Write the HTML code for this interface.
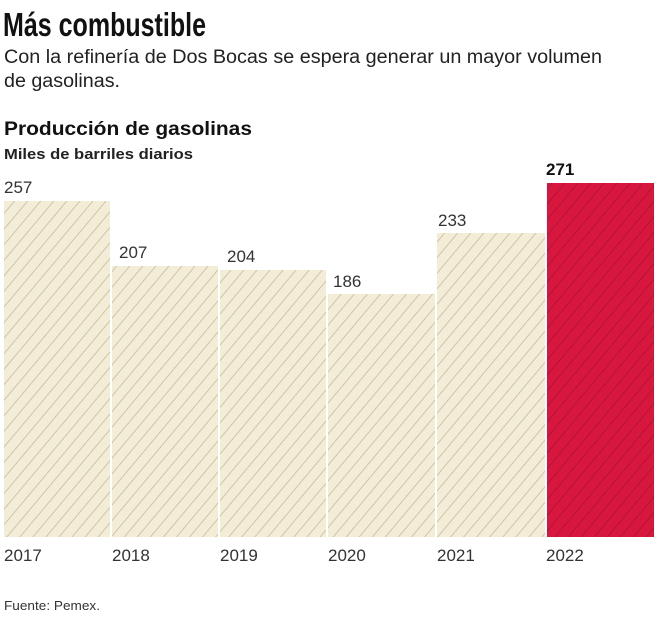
<!DOCTYPE html>
<html><head><meta charset="utf-8"><style>
body{margin:0;width:657px;height:620px;background:#fff;overflow:hidden;font-family:"Liberation Sans",sans-serif;}
</style></head><body>
<svg width="657" height="620" xmlns="http://www.w3.org/2000/svg">
<defs>
<pattern id="h1" patternUnits="userSpaceOnUse" width="10" height="10" patternTransform="rotate(40)">
<rect width="10" height="10" fill="#f3ecd6"/><line x1="0" y1="0" x2="0" y2="10" stroke="#bfb597" stroke-width="1.4"/></pattern>
<pattern id="h2" patternUnits="userSpaceOnUse" width="10" height="10" patternTransform="rotate(40)">
<rect width="10" height="10" fill="#d8173f"/><line x1="0" y1="0" x2="0" y2="10" stroke="#a8102f" stroke-width="1.4"/></pattern>
</defs>
<text x="3" y="36" font-size="33" font-family="Liberation Sans Narrow, Liberation Sans, sans-serif" font-weight="bold" fill="#111" textLength="203" lengthAdjust="spacingAndGlyphs">Más combustible</text>
<text x="4" y="63" font-size="19" fill="#222" textLength="598" lengthAdjust="spacingAndGlyphs">Con la refinería de Dos Bocas se espera generar un mayor volumen</text>
<text x="4" y="87" font-size="19" fill="#222" textLength="116" lengthAdjust="spacingAndGlyphs">de gasolinas.</text>
<text x="4" y="135" font-size="19" font-weight="bold" fill="#111" textLength="248" lengthAdjust="spacingAndGlyphs">Producción de gasolinas</text>
<text x="4" y="159" font-size="15" font-weight="bold" fill="#222" textLength="189" lengthAdjust="spacingAndGlyphs">Miles de barriles diarios</text>
<rect x="4" y="201" width="106" height="336" fill="url(#h1)"/>
<rect x="112" y="266" width="106" height="271" fill="url(#h1)"/>
<rect x="220" y="270" width="106" height="267" fill="url(#h1)"/>
<rect x="328" y="294" width="107" height="243" fill="url(#h1)"/>
<rect x="437" y="233" width="108" height="304" fill="url(#h1)"/>
<rect x="547" y="183" width="107" height="354" fill="url(#h2)"/>
<g font-size="17" fill="#333">
<text x="4" y="193">257</text>
<text x="119" y="258">207</text>
<text x="227" y="262">204</text>
<text x="333" y="287">186</text>
<text x="438" y="226">233</text>
<text x="546" y="175" font-weight="bold" fill="#111">271</text>
<text x="4" y="561">2017</text>
<text x="112" y="561">2018</text>
<text x="220" y="561">2019</text>
<text x="328" y="561">2020</text>
<text x="437" y="561">2021</text>
<text x="546" y="561">2022</text>
</g>
<text x="4" y="610" font-size="13" fill="#333" textLength="96" lengthAdjust="spacingAndGlyphs">Fuente: Pemex.</text>
</svg>
</body></html>
